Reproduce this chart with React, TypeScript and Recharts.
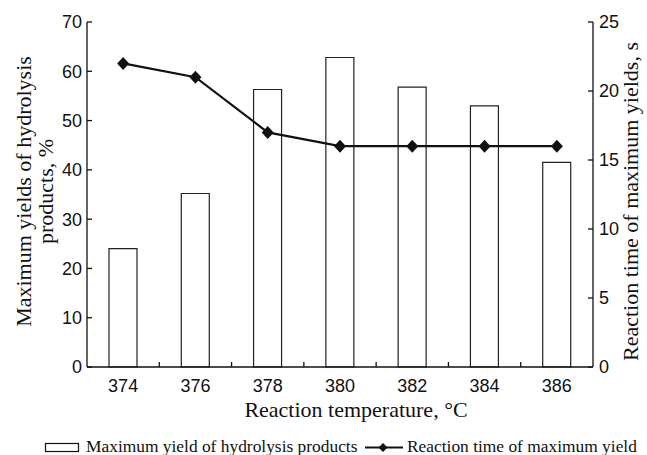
import React from "react";
import { Bar, ComposedChart, Line, XAxis, YAxis } from "recharts";

// reaction temperature, °C
const temperatures = ["374", "376", "378", "380", "382", "384", "386"];
// maximum yield of hydrolysis products, %
const maxYield = [24.0, 35.2, 56.3, 62.8, 56.8, 53.0, 41.5];
// reaction time at which that maximum is reached, s
const reactionTime = [22, 21, 17, 16, 16, 16, 16];

const yieldTicks = [0, 10, 20, 30, 40, 50, 60, 70];
const timeTicks = [0, 5, 10, 15, 20, 25];

const yieldLabel = ["Maximum yields of hydrolysis", "products, %"];
const timeLabel = "Reaction time of maximum yields, s";
const tempLabel = "Reaction temperature, °C";
const legendBar = "Maximum yield of hydrolysis products";
const legendLine = "Reaction time of maximum yield";

const data = temperatures.map((temperature, i) => ({
  temperature,
  yield: maxYield[i],
  time: reactionTime[i],
}));

const SANS = "'Liberation Sans', Arial, sans-serif";
const SERIF = "'Liberation Serif', 'Times New Roman', serif";
const INK = "#111";
const TICK_GAP = 12;

const tickStyle = { fontSize: 18, fill: INK, fontFamily: SANS };

const Diamond = (props: any) => {
  const { cx, cy } = props;
  if (cx == null || cy == null) return null;
  return <path d={`M${cx},${cy - 6.5}L${cx + 6},${cy}L${cx},${cy + 6.5}L${cx - 6},${cy}Z`} fill={INK} />;
};

// category label plus a short inward tick on the band's right edge
const TempTick = (props: any) => {
  const { x, y, payload, index } = props;
  const half = payload && payload.offset ? payload.offset : 506 / 14;
  const axisY = y - TICK_GAP;
  const last = index === temperatures.length - 1;
  return (
    <g>
      {!last && (
        <line x1={x + half} y1={axisY} x2={x + half} y2={axisY - 5} stroke={INK} strokeWidth={1.3} />
      )}
      <text x={x} y={y} dy="0.71em" textAnchor="middle" fontSize={18} fill={INK} fontFamily={SANS}>
        {payload.value}
      </text>
    </g>
  );
};

const renderYieldLabel = (props: any) => {
  const vb = props.viewBox || { x: 0, y: 22, width: 87, height: 345 };
  const cy = vb.y + vb.height / 2 - 3;
  return (
    <g fontFamily={SERIF} fontSize={22} fill={INK}>
      {yieldLabel.map((line, i) => {
        const cx = vb.x + 23 + i * 22;
        return (
          <text key={i} x={cx} y={cy} textAnchor="middle" dominantBaseline="central" transform={`rotate(-90, ${cx}, ${cy})`}>
            {line}
          </text>
        );
      })}
    </g>
  );
};

const renderTimeLabel = (props: any) => {
  const vb = props.viewBox || { x: 593, y: 22, width: 54, height: 345 };
  const cx = vb.x + 37;
  const cy = vb.y + vb.height / 2 + 7;
  return (
    <text x={cx} y={cy} textAnchor="middle" dominantBaseline="central" transform={`rotate(-90, ${cx}, ${cy})`}
      fontFamily={SERIF} fontSize={22} fill={INK}>
      {timeLabel}
    </text>
  );
};

const renderTempLabel = (props: any) => {
  const vb = props.viewBox || { x: 87, y: 367, width: 506, height: 40 };
  return (
    <text x={vb.x + vb.width / 2 + 16} y={vb.y + 50} textAnchor="middle" fontFamily={SERIF} fontSize={22} fill={INK}>
      {tempLabel}
    </text>
  );
};

function ChartLegend() {
  return (
    <svg width={647} height={30} style={{ position: "absolute", left: 0, top: 425 }}>
      <rect x={45.5} y={18.5} width={33} height={8} fill="#fff" stroke={INK} strokeWidth={1.2} />
      <text x={86} y={26.7} fontFamily={SERIF} fontSize={17.4} fill={INK}>{legendBar}</text>
      <line x1={365} y1={22.5} x2={403} y2={22.5} stroke={INK} strokeWidth={2.2} />
      <path d="M383,18L387.5,22.5L383,27L378.5,22.5Z" fill={INK} />
      <text x={407} y={26.7} fontFamily={SERIF} fontSize={17.4} fill={INK}>{legendLine}</text>
    </svg>
  );
}

export default function App() {
  return (
    <div style={{ position: "absolute", left: 0, top: 0, width: 647, height: 455, background: "#fff" }}>
      <ComposedChart width={647} height={455} data={data} margin={{ top: 22, right: 0, bottom: 48, left: 0 }}>
        <XAxis
          dataKey="temperature"
          tickLine={false}
          tickSize={0}
          tickMargin={TICK_GAP}
          height={40}
          axisLine={{ stroke: INK, strokeWidth: 1.3 }}
          tick={<TempTick />}
          interval={0}
          label={{ content: renderTempLabel }}
        />
        <YAxis
          yAxisId="left"
          width={87}
          domain={[0, 70]}
          ticks={yieldTicks}
          tickSize={-5}
          tickMargin={10}
          axisLine={{ stroke: INK, strokeWidth: 1.3 }}
          tickLine={{ stroke: INK, strokeWidth: 1.3 }}
          tick={tickStyle}
          label={{ content: renderYieldLabel }}
        />
        <YAxis
          yAxisId="right"
          orientation="right"
          width={54}
          domain={[0, 25]}
          ticks={timeTicks}
          tickSize={-5}
          tickMargin={11}
          axisLine={{ stroke: INK, strokeWidth: 1.3 }}
          tickLine={{ stroke: INK, strokeWidth: 1.3 }}
          tick={tickStyle}
          label={{ content: renderTimeLabel }}
        />
        <Bar
          yAxisId="left"
          dataKey="yield"
          barSize={28}
          fill="#fff"
          stroke="#222"
          strokeWidth={1.2}
          isAnimationActive={false}
        />
        <Line
          yAxisId="right"
          dataKey="time"
          stroke={INK}
          strokeWidth={2.2}
          dot={<Diamond />}
          activeDot={false}
          isAnimationActive={false}
        />
      </ComposedChart>
      <ChartLegend />
    </div>
  );
}
